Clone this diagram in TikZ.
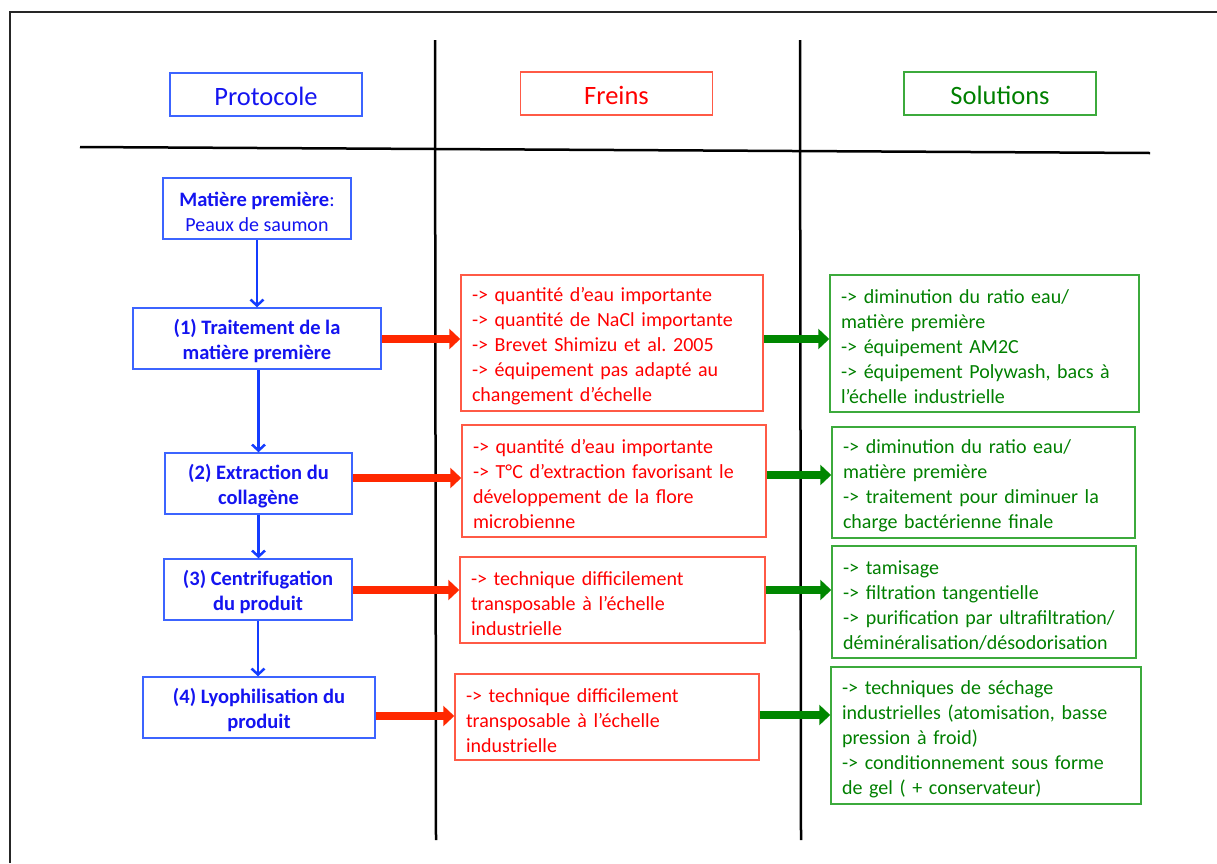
\documentclass[tikz,border=0pt]{standalone}
\usepackage{fontspec}
\setmainfont{Carlito}
\frenchspacing
\usetikzlibrary{arrows.meta}
\newcommand\tstrut{\rule{0pt}{21pt}}
\definecolor{tblue}{RGB}{20,20,240}
\definecolor{bblue}{RGB}{60,100,255}
\definecolor{ablue}{RGB}{20,60,255}
\definecolor{tred}{RGB}{255,0,0}
\definecolor{bred}{RGB}{255,90,70}
\definecolor{ared}{RGB}{255,40,0}
\definecolor{tgreen}{RGB}{0,128,0}
\definecolor{bgreen}{RGB}{60,170,60}
\definecolor{agreen}{RGB}{0,135,0}
\begin{document}
\begin{tikzpicture}[x=1pt,y=-1pt,
  hdr/.style={draw, line width=1.2pt, minimum width=192pt, minimum height=43pt, inner sep=0pt, font=\fontsize{26.5}{30}\selectfont},
  pbox/.style={draw=bblue, text=tblue, line width=1.5pt, inner sep=0pt, align=center, minimum height=61pt, font=\fontsize{20}{25}\selectfont},
  pboxb/.style={pbox, font=\fontsize{20.5}{25}\selectfont\bfseries},
  rbox/.style={draw=bred, text=tred, line width=1.5pt, inner xsep=11pt, inner ysep=0pt, align=left, font=\fontsize{20}{25}\selectfont},
  gbox/.style={draw=bgreen, text=tgreen, line width=1.5pt, inner xsep=11pt, inner ysep=0pt, align=left, font=\fontsize{20}{25}\selectfont},
  barrow/.style={draw=ablue, line width=2.5pt, -{Straight Barb[length=6pt,width=13pt,line width=2.5pt]}},
  rarrow/.style={draw=ared, line width=8.5pt, -{Triangle[length=11pt,width=20pt]}},
  garrow/.style={draw=agreen, line width=8pt, -{Triangle[length=11pt,width=20pt]}},
  rule/.style={draw=black, line width=2.5pt}
]
\useasboundingbox (0,0) rectangle (1217,863);
\fill[white] (0,0) rectangle (1217,863);
% frame
\draw[line width=2pt, black!85] (10,863) -- (10,12) -- (1217,12);
% table lines
\coordinate (hl) at (80,147);
\coordinate (hr) at (1150,153);
\coordinate (v1t) at (435,40);
\coordinate (v1b) at (436,840);
\coordinate (v2t) at (800,40);
\coordinate (v2b) at (801,840);
\draw[rule] (hl) -- (hr);
\draw[rule] (v1t) -- (v1b);
\draw[rule] (v2t) -- (v2b);
% headers
\node[hdr, draw=bblue, text=tblue] (hp) at (266,94.5) {\rule{0pt}{23pt}Protocole};
\node[hdr, draw=bred, text=tred] (hf) at (616.5,93.5) {\rule{0pt}{23pt}Freins};
\node[hdr, draw=bgreen, text=tgreen] (hs) at (1000,93.5) {\rule{0pt}{23pt}Solutions};
% protocol boxes
\node[pbox, minimum width=188pt] (mp) at (257,208.5) {\tstrut{\fontsize{20.5}{25}\selectfont\bfseries Matière première}:\\Peaux de saumon};
\node[pboxb, minimum width=248pt] (b1) at (257,338.5) {\tstrut(1) Traitement de la\\matière première};
\node[pboxb, minimum width=187pt] (b2) at (258.5,483.5) {\tstrut(2) Extraction du\\collagène};
\node[pboxb, minimum width=188pt] (b3) at (258,589.5) {\tstrut(3) Centrifugation\\du produit};
\node[pboxb, minimum width=232pt] (b4) at (259,707.5) {\tstrut(4) Lyophilisation du\\produit};
% freins boxes
\node[rbox, text width=280pt, minimum height=136pt] (r1) at (612,343) {\tstrut-> quantité d’eau importante\\-> quantité de NaCl importante\\-> Brevet Shimizu et al. 2005\\-> équipement pas adapté au\\changement d’échelle};
\node[rbox, text width=282pt, minimum height=112pt] (r2) at (614,481) {\tstrut-> quantité d’eau importante\\-> T°C d’extraction favorisant le\\développement de la flore\\microbienne};
\node[rbox, text width=283pt, minimum height=86pt] (r3) at (612.5,600) {\tstrut-> technique difficilement\\transposable à l’échelle\\industrielle};
\node[rbox, text width=282pt, minimum height=86pt] (r4) at (607,717) {\tstrut-> technique difficilement\\transposable à l’échelle\\industrielle};
% solutions boxes
\node[gbox, text width=287pt, minimum height=137pt] (g1) at (984.5,343.5) {\tstrut-> diminution du ratio eau/\\matière première\\-> équipement AM2C\\-> équipement Polywash, bacs à\\l’échelle industrielle};
\node[gbox, text width=281pt, minimum height=111pt] (g2) at (983.5,482.5) {\tstrut-> diminution du ratio eau/\\matière première\\-> traitement pour diminuer la\\charge bactérienne finale};
\node[gbox, text width=282pt, minimum height=112pt] (g3) at (984,602) {\tstrut-> tamisage\\-> filtration tangentielle\\-> purification par ultrafiltration/\\déminéralisation/désodorisation};
\node[gbox, text width=288pt, minimum height=137pt] (g4) at (986,735.5) {\tstrut-> techniques de séchage\\industrielles (atomisation, basse\\pression à froid)\\-> conditionnement sous forme\\de gel ( + conservateur)};
% blue arrows
\draw[barrow] (mp.south) -- (mp.south |- b1.north);
\draw[barrow] (b1.south -| b2.north) -- (b2.north);
\draw[barrow] (b2.south) -- (b2.south |- b3.north);
\draw[barrow] (b3.south) -- (b3.south |- b4.north);
% red arrows
\draw[rarrow] (b1.east |- 0,339) -- (r1.west |- 0,339);
\draw[rarrow] (b2.east |- 0,478) -- (r2.west |- 0,478);
\draw[rarrow] (b3.east |- 0,590) -- (r3.west |- 0,590);
\draw[rarrow] (b4.east |- 0,716) -- (r4.west |- 0,716);
% green arrows
\draw[garrow] (r1.east |- 0,339) -- (g1.west |- 0,339);
\draw[garrow] (r2.east |- 0,475) -- (g2.west |- 0,475);
\draw[garrow] (r3.east |- 0,590) -- (g3.west |- 0,590);
\draw[garrow] (r4.east |- 0,715) -- (g4.west |- 0,715);
\end{tikzpicture}
\end{document}
